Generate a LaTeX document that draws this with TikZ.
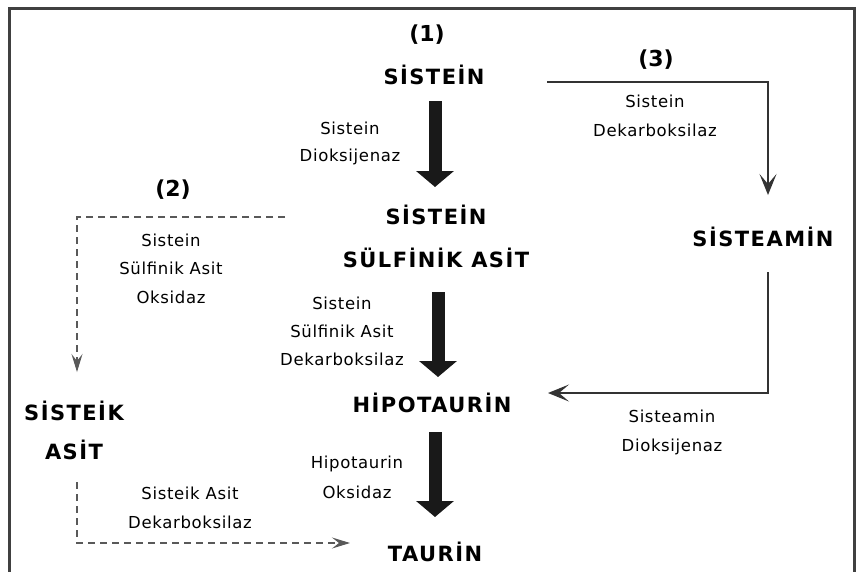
\documentclass[tikz,border=0pt]{standalone}
\usepackage{fontspec}
\setmainfont{DejaVu Sans}
\newfontfamily\titlefont[LetterSpace=7]{DejaVu Sans Bold}
\newfontfamily\enzfont[LetterSpace=4]{DejaVu Sans}
\usetikzlibrary{arrows.meta,calc}
\begin{document}
\begin{tikzpicture}[x=1pt,y=-1pt,
  title/.style={font=\fontsize{21}{21}\selectfont\titlefont, inner sep=0pt},
  num/.style={font=\fontsize{22}{22}\selectfont\bfseries, inner sep=0pt},
  enz/.style={font=\fontsize{16.5}{28.5}\selectfont\enzfont, align=center, inner sep=0pt, text=black},
  bigarrow/.style={line width=13pt, -{Triangle[length=16pt,width=37pt]}, black!90},
  thinarrow/.style={line width=1.8pt, black!80, -{Stealth[length=21pt,width=17pt,inset=10pt]}},
  dasharrow/.style={line width=1.1pt, black!65, dash pattern=on 7pt off 5pt, -{Stealth[length=18pt,width=11pt,inset=7pt]}}
]
\useasboundingbox (0,0) rectangle (860,571);
\fill[white] (0,0) rectangle (860,571);
% frame (open at bottom)
\draw[line width=2.2pt, black!75] (9.5,575) -- (9.5,8.5) -- (854.5,8.5) -- (854.5,575);

% main compounds
\node[num] (p1) at (427,35) {(1)};
\node[title] (sistein) at (434,75) {SİSTEİN};
\node[title, align=center, font=\fontsize{21}{43}\selectfont\titlefont] (csa) at (436,236.5) {SİSTEİN\\SÜLFİNİK ASİT};
\node[title] (hipo) at (432,403) {HİPOTAURİN};
\node[title] (taurin) at (435,552) {TAURİN};
\node[num] (p3) at (656,60) {(3)};
\node[title] (steam) at (763,237) {SİSTEAMİN};
\node[num] (p2) at (173,190) {(2)};
\node[title, align=center, font=\fontsize{21}{39}\selectfont\titlefont] (cysteic) at (74,430.5) {SİSTEİK\\ASİT};

% enzyme labels
\node[enz, font=\fontsize{16.5}{27}\selectfont\enzfont] (e1) at (350,143.5) {Sistein\\Dioksijenaz};
\node[enz, font=\fontsize{16.5}{29}\selectfont\enzfont] (e2) at (655,115.5) {Sistein\\Dekarboksilaz};
\node[enz] (e3) at (171,268.5) {Sistein\\Sülfinik Asit\\Oksidaz};
\node[enz, font=\fontsize{16.5}{28}\selectfont\enzfont] (e4) at (342,331) {Sistein\\Sülfinik Asit\\Dekarboksilaz};
\node[enz, font=\fontsize{16.5}{30}\selectfont\enzfont] (e5) at (357,477) {Hipotaurin\\Oksidaz};
\node[enz, font=\fontsize{16.5}{29}\selectfont\enzfont] (e6) at (672,432.5) {Sisteamin\\Dioksijenaz};
\node[enz, font=\fontsize{16.5}{29}\selectfont\enzfont] (e7) at (190,507.5) {Sisteik Asit\\Dekarboksilaz};

% main pathway thick arrows
\draw[bigarrow] ($(sistein)+(1,26)$) -- ($(csa)+(-1,-49.5)$);
\draw[bigarrow] ($(csa)+(2,55.5)$) -- ($(hipo)+(6,-26)$);
\draw[bigarrow] ($(hipo)+(3,29)$) -- ($(taurin)+(0,-35)$);

% pathway (3)
\draw[thinarrow] ($(sistein)+(113,7)$) -| ($(steam)+(5,-42)$);
\draw[thinarrow] ($(steam)+(5,35)$) |- ($(hipo)+(116,-10)$);

% pathway (2)
\coordinate (d2s) at (285,217);
\draw[dasharrow] (d2s) -| ($(cysteic)+(3,-58.5)$);
\draw[dasharrow] ($(cysteic)+(3,51.5)$) |- ($(taurin)+(-85,-9)$);
\end{tikzpicture}
\end{document}
